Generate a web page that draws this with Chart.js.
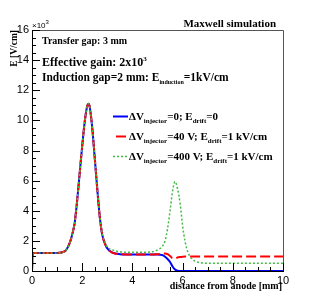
<!DOCTYPE html>
<html>
<head>
<meta charset="utf-8">
<script src="https://cdn.jsdelivr.net/npm/chart.js@4/dist/chart.umd.min.js"></script>
<style>
  html, body { margin: 0; padding: 0; background: #fff; }
  canvas { display: block; }
</style>
</head>
<body>
<canvas id="fieldChart" width="315" height="302"></canvas>
<script>
// distance from anode [mm]
const distance = [0, 0.03, 0.5, 1.0, 1.3, 1.5, 1.6, 1.7, 1.8, 1.9, 2.0, 2.1, 2.2, 2.25, 2.3, 2.4, 2.5, 2.6, 2.7, 2.8, 2.9, 3.0, 3.2, 3.5, 4.0, 4.5, 4.8, 5.0, 5.2, 5.3, 5.4, 5.5, 5.6, 5.7, 5.8, 5.9, 6.0, 6.1, 6.2, 6.3, 6.4, 6.5, 6.7, 7.0, 8.0, 9.0, 10.0];

// E [V/cm] in units of 10^3
const fieldNoInjector = [0, 1.2, 1.2, 1.2, 1.3, 1.85, 2.4, 3.2, 4.7, 6.5, 8.3, 9.9, 10.95, 11.1, 10.9, 9.5, 7.5, 5.45, 3.6, 2.4, 1.85, 1.5, 1.22, 1.12, 1.1, 1.1, 1.1, 1.1, 1.05, 0.95, 0.8, 0.6, 0.3, 0.1, 0.02, 0, 0, 0, 0, 0, 0, 0, 0, 0, 0, 0, 0];
const field40V = [0, 1.2, 1.2, 1.2, 1.3, 1.85, 2.4, 3.2, 4.7, 6.5, 8.3, 9.9, 10.95, 11.1, 10.9, 9.5, 7.5, 5.45, 3.6, 2.4, 1.85, 1.5, 1.22, 1.12, 1.1, 1.1, 1.1, 1.12, 1.15, 1.16, 1.12, 1.0, 0.85, 0.84, 0.9, 0.93, 0.95, 0.96, 0.96, 0.96, 0.96, 0.96, 0.96, 0.96, 0.96, 0.96, 0.96];
const field400V = [0, 1.2, 1.2, 1.2, 1.3, 1.85, 2.4, 3.2, 4.7, 6.5, 8.3, 9.9, 10.95, 11.1, 10.9, 9.5, 7.5, 5.5, 3.65, 2.45, 1.95, 1.6, 1.4, 1.28, 1.24, 1.24, 1.28, 1.4, 1.65, 2.0, 2.8, 4.0, 5.3, 5.93, 5.45, 4.5, 3.0, 1.95, 1.3, 0.95, 0.78, 0.65, 0.55, 0.52, 0.52, 0.52, 0.52];

const xTicks = [0, 2, 4, 6, 8, 10];
const yTicks = [0, 2, 4, 6, 8, 10, 12, 14, 16];

const SERIF = '"Liberation Serif", "DejaVu Serif", serif';
const SANS = '"Liberation Sans", Arial, sans-serif';

function toPoints(ys) {
    return distance.map((x, i) => ({ x: x, y: ys[i] }));
}

// writes a run of text pieces; sub/sup pieces are small and shifted
function drawRich(ctx, x, y, parts, size, smallSize) {
    ctx.textBaseline = 'alphabetic';
    ctx.textAlign = 'left';
    let cx = x;
    parts.forEach(p => {
        const small = p.sub || p.sup;
        const fs = small ? smallSize : size;
        ctx.font = `bold ${fs}px ${SERIF}`;
        const dy = p.sub ? size * 0.3 : (p.sup ? -size * 0.45 : 0);
        ctx.fillText(p.t, cx, y + dy);
        cx += ctx.measureText(p.t).width;
    });
}

const legendParts = [
    [{ t: '\u0394V' }, { t: 'injector', sub: true }, { t: '=0; E' }, { t: 'drift', sub: true }, { t: '=0' }],
    [{ t: '\u0394V' }, { t: 'injector', sub: true }, { t: '=40 V; E' }, { t: 'drift', sub: true }, { t: '=1 kV/cm' }],
    [{ t: '\u0394V' }, { t: 'injector', sub: true }, { t: '=400 V; E' }, { t: 'drift', sub: true }, { t: '=1 kV/cm' }]
];

const rootFrame = {
    id: 'rootFrame',
    afterDraw(chart) {
        const ctx = chart.ctx;
        const a = chart.chartArea;
        const xs = chart.scales.x;
        const ys = chart.scales.y;
        ctx.save();

        // frame
        ctx.strokeStyle = '#555';
        ctx.lineWidth = 1;
        ctx.beginPath();
        ctx.moveTo(a.left, a.top + 0.5);
        ctx.lineTo(a.right + 0.5, a.top + 0.5);
        ctx.lineTo(a.right + 0.5, a.bottom);
        ctx.stroke();
        ctx.strokeStyle = '#000';
        ctx.beginPath();
        ctx.moveTo(a.left + 0.5, a.top);
        ctx.lineTo(a.left + 0.5, a.bottom + 0.5);
        ctx.lineTo(a.right + 1, a.bottom + 0.5);
        ctx.stroke();

        // tick marks, inside the frame
        ctx.beginPath();
        for (let v = 0; v <= 10.001; v += 0.5) {
            const px = Math.round(xs.getPixelForValue(v)) + 0.5;
            const len = Math.abs(v % 2) < 0.01 ? 8 : 4;
            ctx.moveTo(px, a.bottom);
            ctx.lineTo(px, a.bottom - len);
        }
        for (let v = 0; v <= 16.001; v += 0.5) {
            const py = Math.round(ys.getPixelForValue(v)) + 0.5;
            const len = Math.abs(v % 2) < 0.01 ? 8 : 4;
            ctx.moveTo(a.left, py);
            ctx.lineTo(a.left + len, py);
        }
        ctx.stroke();

        ctx.fillStyle = '#000';

        // exponent label
        ctx.textAlign = 'left';
        ctx.textBaseline = 'alphabetic';
        ctx.font = `8px ${SANS}`;
        ctx.fillText('\u00d710', a.left, 28);
        const expX = a.left + ctx.measureText('\u00d710').width;
        ctx.font = `6px ${SANS}`;
        ctx.fillText('3', expX, 24);

        // axis titles
        ctx.font = `bold 10px ${SERIF}`;
        ctx.textAlign = 'right';
        ctx.fillText('distance from anode [mm]', a.right - 1, 289);
        ctx.save();
        ctx.translate(17, a.top);
        ctx.rotate(-Math.PI / 2);
        ctx.font = `bold 9.5px ${SERIF}`;
        ctx.textAlign = 'right';
        ctx.fillText('E [V/cm]', 0, 0);
        ctx.restore();

        // header
        ctx.font = `bold 11px ${SERIF}`;
        ctx.textAlign = 'right';
        ctx.fillText('Maxwell simulation', 276, 27);

        // annotations
        drawRich(ctx, 42, 44, [{ t: 'Transfer gap: 3 mm' }], 10, 7);
        drawRich(ctx, 42, 66, [{ t: 'Effective gain: 2x10' }, { t: '3', sup: true }], 12, 7);
        drawRich(ctx, 42, 81, [{ t: 'Induction gap=2 mm: E' }, { t: 'induction', sub: true }, { t: '=1kV/cm' }], 11.5, 6);

        // legend
        chart.data.datasets.forEach((ds, i) => {
            const ly = 116 + i * 20;
            ctx.save();
            ctx.strokeStyle = ds.borderColor;
            ctx.lineWidth = ds.borderWidth;
            ctx.setLineDash(ds.borderDash || []);
            ctx.lineDashOffset = ds.borderDash && ds.borderDash[0] > 5 ? -3 : 0;
            ctx.beginPath();
            ctx.moveTo(113, ly + 0.5);
            ctx.lineTo(128, ly + 0.5);
            ctx.stroke();
            ctx.restore();
            drawRich(ctx, 129, ly + 3.5, legendParts[i], 11, 7);
        });

        ctx.restore();
    }
};

new Chart(document.getElementById('fieldChart'), {
    type: 'line',
    data: {
        datasets: [
            { label: 'dV=0', data: toPoints(fieldNoInjector), borderColor: '#0000ff', borderWidth: 2, order: 2 },
            { label: 'dV=40V', data: toPoints(field40V), borderColor: '#ff0000', borderWidth: 2, borderDash: [10, 4], order: 1 },
            { label: 'dV=400V', data: toPoints(field400V), borderColor: '#44bb44', borderWidth: 1.5, borderDash: [2, 2], order: 0 }
        ]
    },
    options: {
        responsive: false,
        animation: false,
        events: [],
        layout: { padding: { top: 30, right: 32, left: 0, bottom: 0 } },
        elements: {
            point: { radius: 0 },
            line: { cubicInterpolationMode: 'monotone', fill: false }
        },
        plugins: { legend: { display: false }, tooltip: { enabled: false } },
        scales: {
            x: {
                type: 'linear', min: 0, max: 10,
                afterFit: s => { s.height = 31; },
                afterBuildTicks: s => { s.ticks = xTicks.map(v => ({ value: v })); },
                grid: { display: false, drawTicks: false },
                border: { display: false },
                ticks: { color: '#000', font: { family: SANS, size: 11 }, padding: 3, maxRotation: 0, autoSkip: false }
            },
            y: {
                type: 'linear', min: 0, max: 16,
                afterFit: s => { s.width = 32; },
                afterBuildTicks: s => { s.ticks = yTicks.map(v => ({ value: v })); },
                grid: { display: false, drawTicks: false },
                border: { display: false },
                ticks: { color: '#000', font: { family: SANS, size: 11 }, padding: 3, autoSkip: false }
            }
        }
    },
    plugins: [rootFrame]
});
</script>
</body>
</html>
